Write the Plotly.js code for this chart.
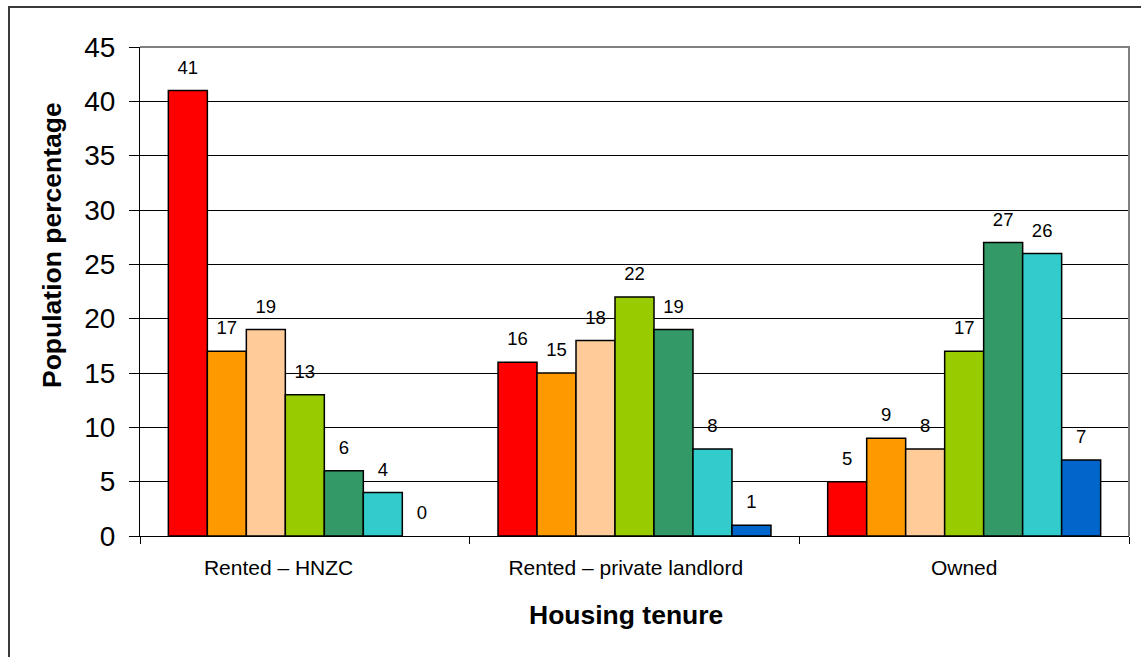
<!DOCTYPE html>
<html>
<head>
<meta charset="utf-8">
<script src="https://cdn.plot.ly/plotly-3.0.1.min.js"></script>
<style>
  html, body { margin: 0; padding: 0; background: #fff; overflow: hidden; }
  #wrap { position: relative; width: 1141px; height: 657px; overflow: hidden; }
  #chart { width: 1141px; height: 657px; }
  #frame { position: absolute; left: 8px; top: 6px; width: 1400px; height: 900px;
           border: 2px solid #3a3a3a; box-sizing: border-box; pointer-events: none; }
</style>
</head>
<body>
<div id="wrap">
  <div id="chart"></div>
  <div id="frame"></div>
</div>
<script>
// Housing tenure categories (trailing no-break spaces are part of the labels)
const categories = [
  'Rented – HNZC\u00a0\u00a0\u00a0\u00a0\u00a0\u00a0\u00a0\u00a0\u00a0',
  'Rented – private landlord\u00a0\u00a0\u00a0',
  'Owned'
];

// Population percentage per group, one array per series (7 groups)
const series1 = [41, 16, 5];
const series2 = [17, 15, 9];
const series3 = [19, 18, 8];
const series4 = [13, 22, 17];
const series5 = [6, 19, 27];
const series6 = [4, 8, 26];
const series7 = [0, 1, 7];

const seriesValues = [series1, series2, series3, series4, series5, series6, series7];
const seriesColors = ['#FF0000', '#FF9900', '#FFCC99', '#99CC00', '#339966', '#33CCCC', '#0066CC'];

const yTicks = [0, 5, 10, 15, 20, 25, 30, 35, 40, 45];

const FONT = 'Arial, "Liberation Sans", Helvetica, sans-serif';
const GAP = 0.172;

const traces = [];
seriesValues.forEach((vals, i) => {
  traces.push({
    type: 'bar',
    x: categories,
    y: vals,
    marker: {
      color: seriesColors[i],
      // no outline on an empty bar
      line: { color: '#000', width: vals.map(v => (v === 0 ? 0 : 1.5)) }
    },
    hoverinfo: 'x+y',
    showlegend: false
  });
});
// value labels sitting above each bar, grouped the same way as the bars
seriesValues.forEach((vals, i) => {
  traces.push({
    type: 'scatter',
    mode: 'markers+text',
    x: categories,
    y: vals,
    text: vals.map(String),
    textposition: 'top center',
    textfont: { family: FONT, size: 18.5, color: '#000' },
    marker: { size: 18, opacity: 0, color: seriesColors[i] },
    cliponaxis: false,
    hoverinfo: 'skip',
    showlegend: false
  });
});

const layout = {
  width: 1141,
  height: 657,
  margin: { l: 140, r: 12, t: 47, b: 121 },
  paper_bgcolor: '#fff',
  plot_bgcolor: '#fff',
  barmode: 'group',
  bargap: GAP,
  bargroupgap: 0,
  scattermode: 'group',
  scattergap: GAP,
  showlegend: false,
  font: { family: FONT, color: '#000' },
  xaxis: {
    type: 'category',
    tickson: 'boundaries',
    ticks: 'outside',
    ticklen: 7,
    tickwidth: 1,
    tickcolor: '#000',
    showline: true,
    linecolor: '#000',
    linewidth: 1,
    showgrid: false,
    ticklabelstandoff: 13,
    tickfont: { family: FONT, size: 21, color: '#000' },
    fixedrange: true
  },
  yaxis: {
    range: [0, 45],
    tickvals: yTicks,
    ticktext: yTicks.map(String),
    ticks: 'outside',
    ticklen: 10,
    tickwidth: 1,
    tickcolor: '#000',
    showline: true,
    linecolor: '#000',
    linewidth: 1,
    showgrid: true,
    gridcolor: '#000',
    gridwidth: 1,
    zeroline: false,
    ticklabelstandoff: 8,
    tickfont: { family: FONT, size: 28, color: '#000' },
    fixedrange: true
  },
  shapes: [
    {
      type: 'path',
      xref: 'paper', yref: 'paper',
      path: 'M 0 1 L 1 1 L 1 0',
      line: { color: '#808080', width: 2 },
      layer: 'above'
    }
  ],
  annotations: [
    {
      text: '<b>Housing tenure</b>',
      xref: 'paper', yref: 'paper',
      x: 0.4914, y: -0.162,
      xanchor: 'center', yanchor: 'middle',
      showarrow: false,
      font: { family: FONT, size: 26.5, color: '#000' }
    },
    {
      text: '<b>Population percentage</b>',
      xref: 'paper', yref: 'paper',
      x: -0.089, y: 0.595,
      xanchor: 'center', yanchor: 'middle',
      textangle: -90,
      showarrow: false,
      font: { family: FONT, size: 26.5, color: '#000' }
    }
  ]
};

Plotly.newPlot('chart', traces, layout, { displayModeBar: false, staticPlot: true });
</script>
</body>
</html>
